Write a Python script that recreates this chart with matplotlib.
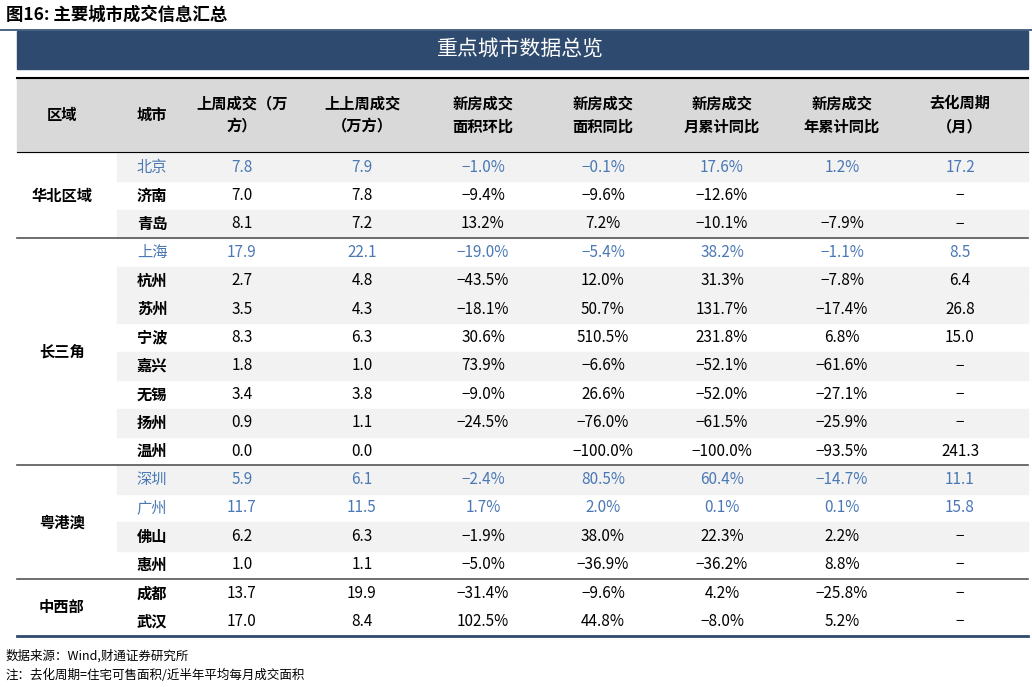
import matplotlib.pyplot as plt
from matplotlib.patches import Rectangle

plt.rcParams['font.family'] = ['Noto Sans CJK SC', 'DejaVu Sans']

title = '图16: 主要城市成交信息汇总'
banner = '重点城市数据总览'
headers = ['区域', '城市', '上周成交（万\n方）', '上上周成交\n（万方）', '新房成交\n面积环比',
           '新房成交\n面积同比', '新房成交\n月累计同比', '新房成交\n年累计同比', '去化周期\n（月）']
regions = [('华北区域', 3), ('长三角', 8), ('粤港澳', 4), ('中西部', 2)]
cities = ['北京', '济南', '青岛', '上海', '杭州', '苏州', '宁波', '嘉兴', '无锡', '扬州', '温州',
          '深圳', '广州', '佛山', '惠州', '成都', '武汉']
last_week = ['7.8', '7.0', '8.1', '17.9', '2.7', '3.5', '8.3', '1.8', '3.4', '0.9', '0.0',
             '5.9', '11.7', '6.2', '1.0', '13.7', '17.0']
prev_week = ['7.9', '7.8', '7.2', '22.1', '4.8', '4.3', '6.3', '1.0', '3.8', '1.1', '0.0',
             '6.1', '11.5', '6.3', '1.1', '19.9', '8.4']
mom = ['-1.0%', '-9.4%', '13.2%', '-19.0%', '-43.5%', '-18.1%', '30.6%', '73.9%', '-9.0%', '-24.5%', '',
       '-2.4%', '1.7%', '-1.9%', '-5.0%', '-31.4%', '102.5%']
yoy = ['-0.1%', '-9.6%', '7.2%', '-5.4%', '12.0%', '50.7%', '510.5%', '-6.6%', '26.6%', '-76.0%', '-100.0%',
       '80.5%', '2.0%', '38.0%', '-36.9%', '-9.6%', '44.8%']
month_cum = ['17.6%', '-12.6%', '-10.1%', '38.2%', '31.3%', '131.7%', '231.8%', '-52.1%', '-52.0%', '-61.5%',
             '-100.0%', '60.4%', '0.1%', '22.3%', '-36.2%', '4.2%', '-8.0%']
year_cum = ['1.2%', '', '-7.9%', '-1.1%', '-7.8%', '-17.4%', '6.8%', '-61.6%', '-27.1%', '-25.9%',
            '-93.5%', '-14.7%', '0.1%', '2.2%', '8.8%', '-25.8%', '5.2%']
destock = ['17.2', '-', '-', '8.5', '6.4', '26.8', '15.0', '-', '-', '-', '241.3',
           '11.1', '15.8', '-', '-', '-', '-']
highlight = ['北京', '上海', '深圳', '广州']
shaded = [1, 0, 1, 0, 1, 1, 0, 1, 0, 1, 0, 1, 0, 1, 0, 0, 0]

fig = plt.figure(figsize=(10.32, 6.87), dpi=100)
ax = fig.add_axes([0, 0, 1, 1])
ax.set_xlim(0, 1032)
ax.set_ylim(687, 0)
ax.axis('off')

navy = '#2e4a6e'
blue = '#4a78b5'
col_x = [62, 152, 242, 362, 483, 603, 722, 842, 960]
left, right = 17, 1028
top_body, row_h = 153, 28.4

ax.text(6, 15, title, fontsize=12.5, fontweight='bold', va='center')
ax.plot([0, 1032], [29.5, 29.5], color=navy, lw=1.2)
ax.add_patch(Rectangle((left, 31), right - left, 38, color=navy))
ax.text(520, 50, banner, color='white', fontsize=15, ha='center', va='center')

ax.add_patch(Rectangle((left, 78), right - left, 74, color='#d9d9d9'))
ax.plot([left, right], [78, 78], color='black', lw=1.5)
ax.plot([left, right], [152, 152], color='black', lw=0.8)
for x, h in zip(col_x, headers):
    ax.text(x, 115, h, fontsize=11, fontweight='bold', ha='center', va='center', linespacing=1.6)

cols = [last_week, prev_week, mom, yoy, month_cum, year_cum, destock]
for i, c in enumerate(cities):
    yc = top_body + (i + 0.5) * row_h
    if shaded[i]:
        ax.add_patch(Rectangle((117, top_body + i * row_h), right - 117, row_h, color='#f2f2f2'))
    hl = c in highlight
    color = blue if hl else 'black'
    ax.text(col_x[1], yc, c, fontsize=11, color=color, fontweight='normal' if hl else 'bold',
            ha='center', va='center')
    for x, col in zip(col_x[2:], cols):
        ax.text(x, yc, col[i].replace('-', '−') if col[i] != '-' else '−', fontsize=11,
                color=color, ha='center', va='center')

start = 0
for name, n in regions:
    ax.text(col_x[0], top_body + (start + n / 2) * row_h, name, fontsize=11, fontweight='bold',
            ha='center', va='center')
    start += n
    yl = top_body + start * row_h
    if start < len(cities):
        ax.plot([left, right], [yl, yl], color='#555555', lw=1.2)
ax.plot([left, right], [636, 636], color=navy, lw=2)

ax.text(6, 656, '数据来源：Wind,财通证券研究所', fontsize=9, va='center')
ax.text(6, 675, '注：去化周期=住宅可售面积/近半年平均每月成交面积', fontsize=9, va='center')

fig.savefig('out.png', dpi=100)
